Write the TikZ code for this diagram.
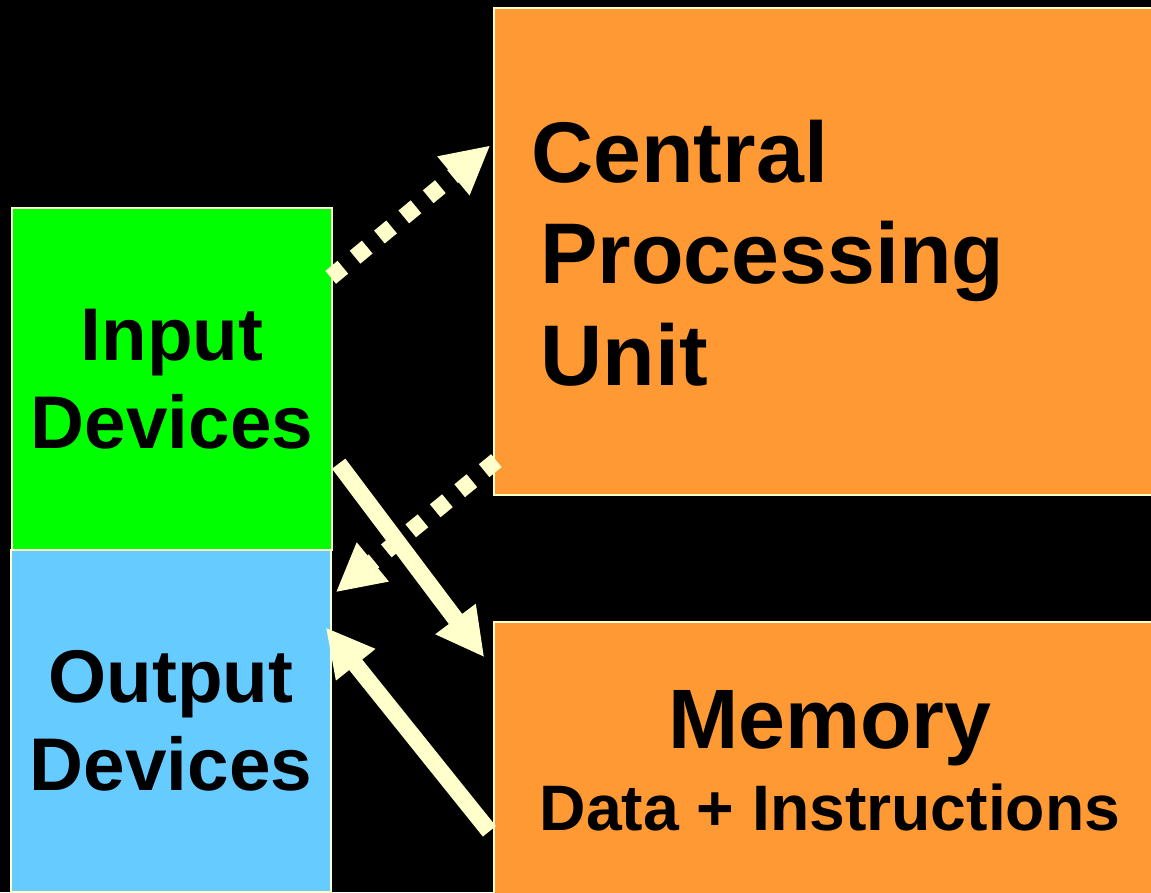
\documentclass[tikz,border=0pt]{standalone}
\usepackage{fontspec}
\setmainfont{Liberation Sans}
\usepackage{tikz}
\usetikzlibrary{arrows.meta,positioning,calc}
\definecolor{cream}{HTML}{FFFFCC}
\definecolor{inputgreen}{HTML}{00FF00}
\definecolor{outputblue}{HTML}{66CCFF}
\definecolor{unitorange}{HTML}{FF9933}

\begin{document}
\begin{tikzpicture}[x=0.02cm,y=-0.02cm,
  box/.style={draw=cream,line width=0.8pt,minimum width=6.4cm,inner sep=0pt,align=center},
  devfont/.style={font=\bfseries\fontsize{42.5}{50}\selectfont},
  flow/.style={cream,line width=9.5pt,-{Triangle[length=0.96cm,width=0.94cm]}},
  dots/.style={flow,dash pattern=on 9pt off 9pt}]
  \fill[black] (0,0) rectangle (1151,892);
  \useasboundingbox (0,0) rectangle (1151,892);

  % devices on the left
  \node[box,devfont,fill=inputgreen,minimum height=6.84cm] (In) at (172,379) {Input\\Devices};
  \node[box,devfont,fill=outputblue,minimum height=6.84cm] (Out) at (171,721) {Output\\Devices};

  % processor and memory
  \node[box,fill=unitorange,minimum width=13.44cm,minimum height=9.74cm] (CPU) at (830,251.5) {};
  \node[anchor=base west,align=left,font=\bfseries\fontsize{49}{57.5}\selectfont,inner sep=0pt] (cpulabel)
    at (531,385) {Central\\\hspace*{0.18cm}Processing\\\hspace*{0.18cm}Unit};
  \node[box,fill=unitorange,minimum width=13.44cm,minimum height=5.56cm,
    font=\bfseries\fontsize{48}{47}\selectfont] (Mem) at (830,761)
    {Memory\\{\fontsize{36.6}{44}\selectfont Data + Instructions}};

  \path[dots] ($(In.north east)+(-2,70)$) edge ($(CPU.north west)+(-3,138)$);
  \path[dots] ($(CPU.south west)+(3,-35)$) edge ($(Out.north east)+(4,43)$);
  \path[flow] ($(In.south east)+(6,-87)$) edge ($(Mem.north west)+(-9,36)$);
  \path[flow] ($(Mem.north west)+(-4,210)$) edge ($(Out.north east)+(-6,78)$);
\end{tikzpicture}
\end{document}
